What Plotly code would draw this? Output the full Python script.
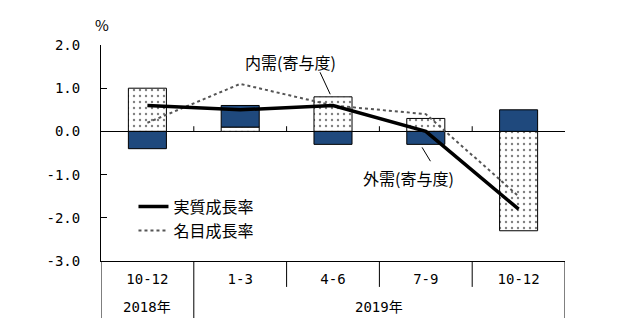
import plotly.graph_objects as go

# ---- data ----
quarters = ["10-12", "1-3", "4-6", "7-9", "10-12"]
years = ["2018年", "2019年"]
domestic = [1.0, 0.1, 0.8, 0.3, -2.3]   # 内需(寄与度)
external = [-0.4, 0.5, -0.3, -0.3, 0.5]  # 外需(寄与度)
real_growth = [0.6, 0.5, 0.6, 0.0, -1.8]      # 実質成長率
nominal_growth = [0.2, 1.1, 0.6, 0.4, -1.5]   # 名目成長率
y_ticks = [2.0, 1.0, 0.0, -1.0, -2.0, -3.0]

xs = list(range(len(quarters)))
BLUE = "rgb(31,73,125)"
FONT = "DejaVu Sans Mono, Noto Sans CJK JP"
JP = "Noto Sans CJK JP"

fig = go.Figure()
fig.add_trace(go.Bar(
    x=xs, y=domestic, width=0.41, showlegend=False, name="内需(寄与度)",
    marker=dict(color="white", line=dict(color="black", width=1),
                pattern=dict(shape=".", fgcolor="black", bgcolor="white", size=6, solidity=0.12)),
))
fig.add_trace(go.Bar(
    x=xs, y=external, width=0.41, showlegend=False, name="外需(寄与度)",
    marker=dict(color=BLUE, line=dict(color="black", width=1)),
))
fig.add_trace(go.Scatter(
    x=xs, y=nominal_growth, mode="lines", name="名目成長率",
    line=dict(color="#555555", width=2, dash="dot"), showlegend=True, legendrank=2,
))
fig.add_trace(go.Scatter(
    x=xs, y=real_growth, mode="lines", name="実質成長率",
    line=dict(color="black", width=3.5), showlegend=True, legendrank=1,
))

shapes = []
# small ticks on zero line at category boundaries
for b in [0.5, 1.5, 2.5, 3.5]:
    shapes.append(dict(type="line", xref="x", yref="y", x0=b, x1=b, y0=0, y1=0.12,
                       line=dict(color="black", width=1)))
# dividers below axis
for b, depth in [(-0.5, -0.264), (0.5, -0.264), (1.5, -0.12), (2.5, -0.12), (3.5, -0.12), (4.5, -0.264)]:
    shapes.append(dict(type="line", xref="x", yref="paper", x0=b, x1=b, y0=0, y1=depth,
                       line=dict(color="black", width=1)))
# leader lines
shapes.append(dict(type="line", xref="x", yref="y", x0=1.86, y0=1.37, x1=1.97, y1=0.86,
                   line=dict(color="black", width=1)))
shapes.append(dict(type="line", xref="x", yref="y", x0=2.96, y0=-0.37, x1=3.05, y1=-0.69,
                   line=dict(color="black", width=1)))

annotations = [
    dict(text="%", xref="paper", yref="paper", x=-0.017, y=1.093, showarrow=False,
         yanchor="middle", font=dict(family=JP, size=15)),
    dict(text="内需(寄与度)", xref="x", yref="y", x=1.54, y=1.6, showarrow=False,
         yanchor="middle", font=dict(family=JP, size=16)),
    dict(text="外需(寄与度)", xref="x", yref="y", x=2.81, y=-1.09, showarrow=False,
         yanchor="middle", font=dict(family=JP, size=16)),
    dict(text=years[0], xref="x", yref="paper", x=0, y=-0.213, showarrow=False,
         yanchor="middle", font=dict(family=FONT, size=14)),
    dict(text=years[1], xref="x", yref="paper", x=2.5, y=-0.213, showarrow=False,
         yanchor="middle", font=dict(family=FONT, size=14)),
]

fig.update_layout(
    width=630, height=327,
    margin=dict(l=101, r=65, t=45, b=66),
    paper_bgcolor="white", plot_bgcolor="white",
    barmode="relative",
    font=dict(family=FONT, size=14, color="black"),
    shapes=shapes, annotations=annotations,
    legend=dict(x=0.07, y=0.33, xanchor="left", yanchor="top",
                bgcolor="rgba(0,0,0,0)", font=dict(family=JP, size=16),
                traceorder="normal", itemwidth=30),
    xaxis=dict(range=[-0.5, 4.5], tickvals=xs, ticktext=quarters, showgrid=False,
               zeroline=False, showline=True, linecolor="black", linewidth=1,
               ticks="", ticklabelstandoff=5, fixedrange=True),
    yaxis=dict(range=[-3, 2], tickvals=y_ticks, ticktext=[f"{v:.1f}" for v in y_ticks],
               showgrid=False, zeroline=True, zerolinecolor="black", zerolinewidth=1,
               showline=True, linecolor="black", linewidth=1,
               ticks="inside", ticklen=6, tickcolor="black", ticklabelstandoff=17),
)

fig.write_html("out.html")
